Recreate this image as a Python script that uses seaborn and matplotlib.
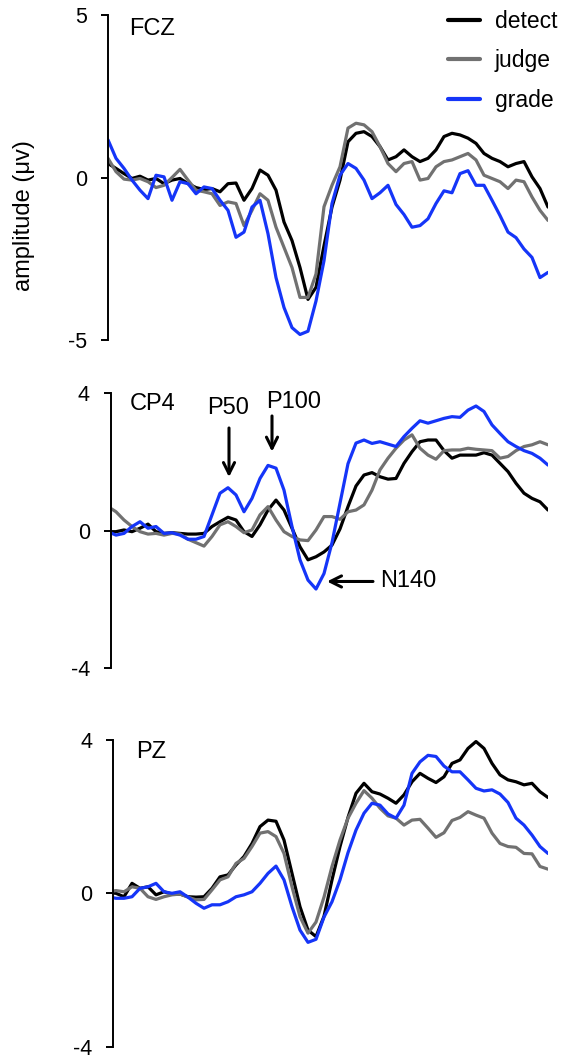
import numpy as np
import pandas as pd
import matplotlib
matplotlib.use("Agg")
import matplotlib.pyplot as plt
from matplotlib.lines import Line2D
import seaborn as sns

# time axis (ms after onset, sampling of the traces)
time_ms = [0, 8, 16, 24, 32, 40, 48, 56, 64, 72, 80, 88, 96, 104, 112, 120,
           128, 136, 144, 152, 160, 168, 176, 184, 192, 200, 208, 216, 224, 232,
           240, 248, 256, 264, 272, 280, 288, 296, 304, 312, 320, 328, 336, 344,
           352, 360, 368, 376, 384, 392, 400, 408, 416, 424, 432, 440]

conditions = ["detect", "judge", "grade"]
colors = {"detect": "#000000", "judge": "#717171", "grade": "#1535F8"}

# ---- FCZ ----
fcz_detect = [0.43, 0.28, 0.12, -0.03, 0.04, -0.08, -0.03, -0.19, -0.08, -0.03,
              -0.19, -0.31, -0.37, -0.34, -0.44, -0.19, -0.17, -0.70, -0.34, 0.23,
              0.07, -0.39, -1.37, -1.94, -2.77, -3.75, -3.38, -2.10, -0.91, -0.08,
              1.10, 1.36, 1.41, 1.26, 0.95, 0.54, 0.64, 0.85, 0.64, 0.49,
              0.59, 0.85, 1.26, 1.36, 1.31, 1.21, 1.05, 0.74, 0.59, 0.49,
              0.33, 0.43, 0.49, 0.02, -0.34, -0.91]
fcz_judge = [0.59, 0.18, -0.05, -0.08, -0.03, -0.13, -0.31, -0.24, 0.00, 0.25,
             -0.08, -0.39, -0.44, -0.50, -0.86, -0.75, -0.80, -1.48, -1.01, -0.50,
             -0.70, -1.53, -2.15, -2.77, -3.69, -3.69, -2.97, -0.90, -0.24, 0.33,
             1.52, 1.67, 1.62, 1.41, 0.95, 0.43, 0.18, 0.43, 0.49, -0.08,
             -0.03, 0.33, 0.49, 0.54, 0.64, 0.74, 0.54, 0.07, -0.03, -0.13,
             -0.34, -0.08, -0.13, -0.60, -1.01, -1.32]
fcz_grade = [1.16, 0.59, 0.28, -0.08, -0.39, -0.65, 0.07, 0.02, -0.70, -0.13,
             -0.19, -0.50, -0.29, -0.34, -0.70, -1.01, -1.84, -1.68, -0.91, -0.70,
             -1.73, -3.08, -4.00, -4.62, -4.83, -4.73, -3.80, -2.56, -0.80, 0.07,
             0.43, 0.28, -0.08, -0.65, -0.47, -0.24, -0.83, -1.14, -1.53, -1.48,
             -1.27, -0.80, -0.41, -0.47, 0.12, 0.21, -0.24, -0.24, -0.70, -1.17,
             -1.68, -1.85, -2.20, -2.46, -3.08, -2.92]

# ---- CP4 ----
cp4_detect = [-0.03, -0.03, 0.02, -0.03, 0.07, 0.19, -0.03, -0.08, -0.06, -0.08,
              -0.10, -0.10, -0.08, 0.12, 0.26, 0.39, 0.31, -0.03, -0.17, 0.17,
              0.60, 0.89, 0.60, 0.07, -0.47, -0.85, -0.76, -0.62, -0.42, 0.05,
              0.70, 1.30, 1.62, 1.69, 1.57, 1.50, 1.52, 1.96, 2.30, 2.59,
              2.64, 2.64, 2.33, 2.11, 2.20, 2.20, 2.20, 2.27, 2.20, 1.96,
              1.72, 1.38, 1.09, 0.94, 0.84, 0.60]
cp4_judge = [0.70, 0.55, 0.31, 0.12, -0.03, -0.10, -0.08, -0.13, -0.08, -0.10,
             -0.25, -0.35, -0.45, -0.17, 0.17, 0.26, 0.12, -0.06, 0.02, 0.46,
             0.70, 0.31, -0.03, -0.17, -0.27, -0.29, 0.02, 0.41, 0.41, 0.33,
             0.55, 0.60, 0.75, 1.18, 1.77, 2.11, 2.40, 2.64, 2.79, 2.40,
             2.20, 2.08, 2.33, 2.35, 2.35, 2.40, 2.37, 2.35, 2.33, 2.11,
             2.16, 2.33, 2.45, 2.50, 2.59, 2.50]
cp4_grade = [-0.03, -0.13, -0.08, 0.12, 0.26, 0.07, 0.12, -0.08, -0.06, -0.13,
             -0.25, -0.25, -0.17, 0.46, 1.09, 1.25, 1.04, 0.55, 0.94, 1.52,
             1.90, 1.82, 1.18, 0.12, -0.85, -1.44, -1.70, -1.25, -0.35, 0.80,
             1.95, 2.55, 2.64, 2.54, 2.59, 2.52, 2.45, 2.74, 2.98, 3.20,
             3.13, 3.20, 3.27, 3.32, 3.30, 3.51, 3.63, 3.47, 3.08, 2.83,
             2.59, 2.45, 2.33, 2.25, 2.11, 1.91]

# ---- PZ ----
pz_detect = [0.02, 0.00, -0.09, 0.26, 0.13, 0.17, -0.04, 0.04, -0.02, -0.02,
             -0.09, -0.10, -0.09, 0.13, 0.43, 0.48, 0.74, 0.96, 1.30, 1.74,
             1.91, 1.88, 1.39, 0.52, -0.35, -0.96, -1.13, -0.60, 0.35, 1.22,
             1.98, 2.61, 2.87, 2.65, 2.59, 2.48, 2.35, 2.57, 2.91, 3.13,
             3.00, 2.89, 3.04, 3.39, 3.48, 3.78, 3.96, 3.78, 3.39, 3.09,
             2.96, 2.91, 2.83, 2.87, 2.65, 2.50]
pz_judge = [0.04, 0.07, 0.04, 0.17, 0.13, -0.09, -0.16, -0.09, -0.04, -0.02,
            -0.10, -0.17, -0.16, 0.09, 0.35, 0.43, 0.78, 0.91, 1.22, 1.57,
            1.61, 1.48, 1.04, 0.17, -0.61, -1.04, -0.75, -0.10, 0.70, 1.39,
            1.96, 2.35, 2.68, 2.48, 2.22, 2.02, 1.96, 1.78, 1.91, 1.93,
            1.70, 1.46, 1.58, 1.90, 1.98, 2.13, 2.04, 1.96, 1.57, 1.30,
            1.22, 1.20, 1.04, 1.03, 0.70, 0.63]
pz_grade = [-0.09, -0.13, -0.13, -0.09, 0.13, 0.17, 0.26, 0.04, 0.00, 0.04,
            -0.10, -0.26, -0.39, -0.30, -0.30, -0.22, -0.09, -0.04, 0.04, 0.26,
            0.52, 0.71, 0.35, -0.35, -0.96, -1.28, -1.20, -0.62, -0.22, 0.35,
            1.06, 1.65, 2.09, 2.35, 2.30, 2.07, 1.96, 2.30, 3.13, 3.43,
            3.60, 3.57, 3.32, 3.17, 3.17, 2.96, 2.74, 2.67, 2.70, 2.59,
            2.37, 1.96, 1.78, 1.52, 1.22, 1.04]

channels = ["FCZ", "CP4", "PZ"]
y_ticks = {"FCZ": [-5, 0, 5], "CP4": [-4, 0, 4], "PZ": [-4, 0, 4]}
series = {
    "FCZ": [fcz_detect, fcz_judge, fcz_grade],
    "CP4": [cp4_detect, cp4_judge, cp4_grade],
    "PZ": [pz_detect, pz_judge, pz_grade],
}

sns.set_style("ticks")
plt.rcParams['font.family'] = ['Liberation Sans', 'DejaVu Sans']
plt.rcParams['axes.unicode_minus'] = False
for k in ["text.color", "axes.labelcolor", "xtick.color", "ytick.color", "axes.edgecolor"]:
    plt.rcParams[k] = "black"

W, H = 563, 1061
fig = plt.figure(figsize=(W / 100, H / 100), dpi=100)

# panel geometry in pixels: (left spine x, top y, bottom y)
geom = {"FCZ": (108, 15, 340), "CP4": (110.7, 393.3, 668), "PZ": (113.3, 740, 1046.6)}
label_pos = {"FCZ": (21, 4.56), "CP4": (22, 3.70), "PZ": (28, 3.69)}
right_px = 548

axes = {}
for ch in channels:
    lx, ty, by = geom[ch]
    rect = [lx / W, 1 - by / H, (right_px - lx) / W, (by - ty) / H]
    ax = fig.add_axes(rect)
    frames = []
    for cond, vals in zip(conditions, series[ch]):
        frames.append(pd.DataFrame({"time": time_ms, "amp": vals, "cond": cond}))
    df = pd.concat(frames, ignore_index=True)
    sns.lineplot(data=df, x="time", y="amp", hue="cond", hue_order=conditions,
                 palette=colors, linewidth=2.3, estimator=None, ax=ax, legend=False)
    ax.set_xlim(lx - 108, 440)
    yt = y_ticks[ch]
    ax.set_ylim(yt[0], yt[-1])
    ax.set_yticks(yt)
    ax.set_yticklabels([str(v) for v in yt])
    ax.set_xticks([])
    ax.set_xlabel("")
    ax.set_ylabel("")
    sns.despine(ax=ax, bottom=True)
    ax.spines["left"].set_linewidth(1.4)
    ax.tick_params(axis="y", direction="out", length=5, width=1.4, labelsize=15.5, pad=10)
    tx, tyv = label_pos[ch]
    ax.text(tx, tyv, ch, fontsize=17, ha="left", va="center")
    axes[ch] = ax

# y-axis label
fig.text(24 / W, 1 - 216 / H, "amplitude (μv)", rotation=90, ha="center", va="center",
         fontsize=17)

# legend
handles = [Line2D([0], [0], color=colors[c], lw=3) for c in conditions]
fig.legend(handles, conditions, loc="upper right", bbox_to_anchor=(557 / W, 1 - 10 / H),
           frameon=False, fontsize=16.5, handlelength=1.4, handletextpad=0.65,
           labelspacing=0.72, borderpad=0, borderaxespad=0)

# component annotations on CP4
ax = axes["CP4"]
arrow = dict(arrowstyle="->", lw=2.2, color="black", mutation_scale=20, shrinkA=0, shrinkB=0)
ax.annotate("", xy=(121, 1.56), xytext=(121, 2.99), arrowprops=arrow)
ax.text(120, 3.57, "P50", fontsize=17, ha="center", va="center")
ax.annotate("", xy=(164, 2.30), xytext=(164, 3.34), arrowprops=arrow)
ax.text(158, 3.76, "P100", fontsize=17, ha="left", va="center")
ax.annotate("", xy=(219, -1.48), xytext=(265, -1.48), arrowprops=arrow)
ax.text(272, -1.48, "N140", fontsize=17, ha="left", va="center")

fig.savefig("out.png", dpi=100)
